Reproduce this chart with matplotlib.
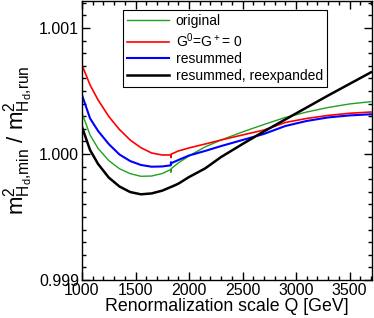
import matplotlib
matplotlib.use("Agg")
import matplotlib.pyplot as plt
from matplotlib.ticker import MultipleLocator

plt.rcParams['font.family'] = ['Liberation Sans', 'DejaVu Sans']
plt.rcParams['mathtext.fontset'] = 'custom'
plt.rcParams['mathtext.rm'] = 'Liberation Sans'
plt.rcParams['mathtext.it'] = 'Liberation Sans'

# renormalization scale Q [GeV] (kink near 1830 GeV)
Q = [1000, 1075, 1150, 1250, 1350, 1450, 1550, 1650, 1750, 1830, 1831, 1832,
     1900, 2000, 2150, 2300, 2500, 2700, 2900, 3100, 3300, 3500, 3700]

original = [1.000325, 1.000151, 1.000044, 0.999948, 0.999883, 0.999844, 0.999823,
            0.999825, 0.999845, 0.999877, 0.999855, 0.999882, 0.999929, 0.999984,
            1.000056, 1.000111, 1.000175, 1.000234, 1.000290, 1.000333, 1.000369,
            1.000397, 1.000415]
goldstone_zero = [1.000706, 1.000548, 1.000429, 1.000298, 1.000194, 1.000111, 1.000050,
                  1.000008, 0.999992, 0.999992, 0.999972, 0.999998, 1.000024, 1.000048,
                  1.000079, 1.000111, 1.000151, 1.000190, 1.000250, 1.000282, 1.000306,
                  1.000323, 1.000333]
resummed = [1.000468, 1.000283, 1.000183, 1.000079, 0.999996, 0.999944, 0.999913,
            0.999899, 0.999901, 0.999910, 0.999935, 0.999926, 0.999952, 0.999988,
            1.000024, 1.000063, 1.000111, 1.000159, 1.000222, 1.000262, 1.000290,
            1.000306, 1.000315]
reexpanded = [1.000214, 1.000032, 0.999921, 0.999813, 0.999742, 0.999698, 0.999680,
              0.999687, 0.999709, 0.999738, 0.999738, 0.999738, 0.999764, 0.999817,
              0.999885, 0.999976, 1.000079, 1.000179, 1.000274, 1.000369, 1.000464,
              1.000556, 1.000648]

labels = ['original', r'G$^0$=G$^+$= 0', 'resummed', 'resummed, reexpanded']

fig = plt.figure(figsize=(3.74, 3.18), dpi=100)
ax = fig.add_axes([82 / 374, 38 / 318, 290 / 374, 279 / 318])

ax.plot(Q, original, color='#22a022', lw=1.0, label=labels[0])
ax.plot(Q, goldstone_zero, color='#ff0000', lw=1.2, label=labels[1])
ax.plot(Q, resummed, color='#0000ff', lw=1.5, label=labels[2])
ax.plot(Q, reexpanded, color='black', lw=1.8, label=labels[3])

ax.set_xlim(1000, 3710)
ax.set_ylim(0.999, 1.001214)
ax.xaxis.set_major_locator(MultipleLocator(500))
ax.xaxis.set_minor_locator(MultipleLocator(100))
ax.yaxis.set_major_locator(MultipleLocator(0.001))
ax.yaxis.set_minor_locator(MultipleLocator(0.0001))
ax.yaxis.set_major_formatter(matplotlib.ticker.FormatStrFormatter('%.3f'))
ax.tick_params(which='both', direction='in', top=True, right=True, labelsize=11.5, pad=2)
ax.tick_params(which='major', length=6, width=1)
ax.tick_params(which='minor', length=3, width=1)
for s in ax.spines.values():
    s.set_linewidth(1)

ax.set_xlabel('Renormalization scale Q [GeV]', fontsize=12.8, labelpad=0)
ax.set_ylabel(r'$\mathregular{m^2_{H_d{,}min}\ /\ m^2_{H_d{,}run}}$', fontsize=16, labelpad=2)

leg = fig.legend(loc='upper left', bbox_to_anchor=(123 / 374, 1 - 10 / 318),
                 fontsize=10, frameon=True, fancybox=False, framealpha=1,
                 edgecolor='black', handlelength=3.0, handletextpad=0.5,
                 labelspacing=0.2, borderpad=0.3, borderaxespad=0)
leg.get_frame().set_linewidth(0.8)

fig.savefig('out.png', dpi=100)
